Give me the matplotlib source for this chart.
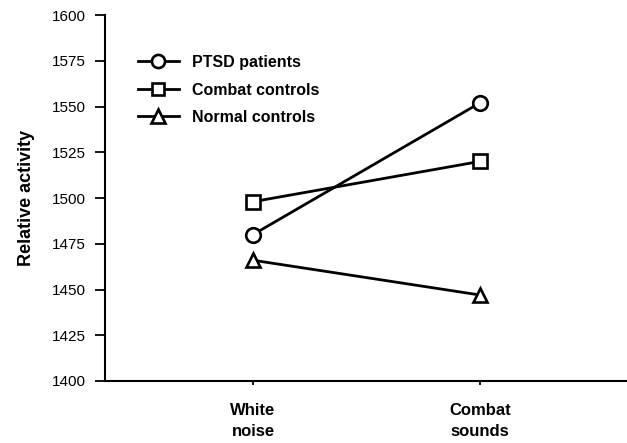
import matplotlib
matplotlib.use('Agg')
import matplotlib.pyplot as plt

plt.rcParams['font.family'] = ['Liberation Sans', 'DejaVu Sans']

conditions = ['White\nnoise', 'Combat\nsounds']
ptsd = [1480, 1552]
combat_ctrl = [1498, 1520]
normal_ctrl = [1466, 1447]

series = [('PTSD patients', ptsd, 'o'),
          ('Combat controls', combat_ctrl, 's'),
          ('Normal controls', normal_ctrl, '^')]

fig = plt.figure(figsize=(6.27, 4.43), dpi=100)
ax = fig.add_axes([0.1675, 0.14, 0.8325, 0.826])

x = list(range(len(conditions)))
for name, vals, m in series:
    ax.plot(x, vals, color='black', linewidth=2.0, marker=m, markersize=10.5 if m != 's' else 9.5,
            markerfacecolor='white', markeredgecolor='black', markeredgewidth=1.9, label=name)

ax.set_xlim(-0.652, 1.648)
ax.set_ylim(1400, 1600)
ax.set_yticks(range(1400, 1601, 25))
ax.set_xticks(x)
ax.set_xticklabels(conditions, fontsize=12, fontweight='bold', linespacing=1.45)
ax.tick_params(axis='y', direction='out', length=7, width=1.3, labelsize=11, pad=7)
ax.tick_params(axis='x', direction='out', length=3, width=1.3, pad=13)
ax.spines['top'].set_visible(False)
ax.spines['right'].set_visible(False)
ax.spines['left'].set_linewidth(1.5)
ax.spines['bottom'].set_linewidth(1.5)
ax.set_ylabel('Relative activity', fontsize=13, fontweight='bold', labelpad=12)

leg = ax.legend(loc='upper left', bbox_to_anchor=(0.035, 0.93), frameon=False,
                handlelength=2.6, labelspacing=0.78, handletextpad=0.8, markerscale=0.9,
                prop={'weight': 'bold', 'size': 11.5})

fig.savefig('out.png', dpi=100)
